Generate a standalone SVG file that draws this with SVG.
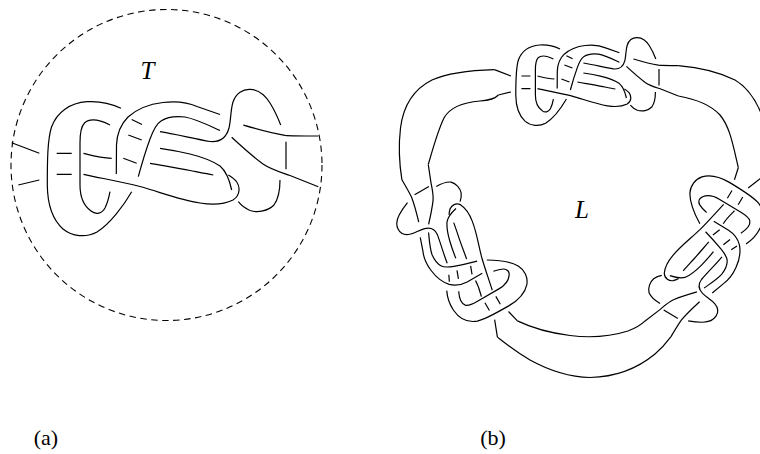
<svg xmlns="http://www.w3.org/2000/svg" xmlns:xlink="http://www.w3.org/1999/xlink" width="760" height="454" viewBox="0 0 760 454">
<style>
.lbl{font-family:"Liberation Serif","DejaVu Serif",serif;fill:#000}
.it{font-style:italic}
.ln{fill:none;stroke:#000;stroke-width:1.2;stroke-linecap:butt;stroke-linejoin:round}
</style>
<defs>
<g id="tangle" fill="none" stroke="#000" stroke-linejoin="round">
<path d="M121,108.3 C110,103 98,101 87,101.7 C70,103 57,112 51.5,127 C47.5,140 47.3,160 47.3,185 C47.5,205 53,220 63,229 C72,236.5 86,238 97,232 C110,224 124,205 131.7,191.7"/>
<path d="M110,125 C100,120 90,118 84.5,123 C80.5,127 80,135 80,143 L80,185 C80,197 84,206 91,211 C96,215 102,213.5 105,208 C107.5,203 109,197 110,191.7"/>
<path d="M56.7,153.3 H71.7 M56.7,174.3 H71.7"/>
<path d="M11.7,142.7 L39.3,153.3 M18.3,185 L39.3,180"/>
<path d="M83.5,153.3 C92,155.5 100,158 111.7,158.3"/>
<path d="M83.5,174.3 C100,178 120,181.5 140,186.5 C160,192 180,200 200,203 C212,205 224,204.5 233,200 C241,195 240,186 236,181 C233,178 230.5,176 228.3,175"/>
<path d="M116.3,174 L116.5,145 C117,132 121,124 128,117 C138,108 150,104 163,102.5 C175,101 187,102 197,106.5 L220,114.5"/>
<path d="M138.3,176.7 C142,163 146,150 150,139 C153,131 156,124 161,121 C167,117 176,116 185,117 C196,119 208,125 220,130.5"/>
<path d="M131.7,119.5 L142,124.5 M128.3,135 L141.7,140 M123.3,158.3 L136.7,163.3"/>
<path d="M160,131.7 C175,134 195,139 210,141.5 C220,142.5 226.5,137 229,128 C231,120 230.5,110 233,102 C236,93 243,89 250,89.3 C258,89.5 265,95 270,103 C275,111 278,118 280.7,125"/>
<path d="M160,148.3 C172,150 180,151.5 190,154 C202,157 212,160.5 220,166 C226,171 229.5,180 231.7,190"/>
<path d="M150,163.3 C165,166 178,168 190,170.5 C199,172.3 207,174 213.3,175"/>
<path d="M243.3,125 C255,128.5 270,133 285,135.3 C292,136 300,136 318.3,136"/>
<path d="M231.7,137.3 C240,145 252,156 263,164 C271,169.5 280,172 290,175.5 L318.3,186.7"/>
<path d="M286,141.7 V169.3"/>
<path d="M280,180 C280,190 279,198 274,205 C268,211 258,213 250,210.5 C245,208.5 241,205 238.3,201.7"/>
</g>
</defs>
<rect width="760" height="454" fill="#fff"/>
<g id="panel-a">
<circle id="boundary" cx="166.5" cy="165" r="155.5" fill="none" stroke="#000" stroke-width="1.1" stroke-dasharray="6.5 4.5"/>
<use id="tangle-T" href="#tangle" xlink:href="#tangle" stroke-width="1.2"/>
<text class="lbl it" x="147.5" y="78.5" font-size="25" text-anchor="middle">T</text>
<text class="lbl" x="46" y="445" font-size="22" text-anchor="middle">(a)</text>
</g>
<g id="panel-b">
<g id="copy-top"><use href="#tangle" xlink:href="#tangle" stroke-width="2" transform="translate(587,83) scale(0.6) translate(-166,-165)"/></g>
<g id="copy-left"><use href="#tangle" xlink:href="#tangle" stroke-width="2" transform="translate(462.7,250.2) rotate(-120) scale(0.6) translate(-166,-165)"/></g>
<g id="copy-right"><use href="#tangle" xlink:href="#tangle" stroke-width="2" transform="translate(703,249.6) rotate(121) scale(0.6) translate(-166,-165)"/></g>
<g id="connectors">
<path class="ln" d="M494.4,69.6 C480,70 450,72 432,80 C412,90 403,108 400.5,128 C398.5,145 399.5,165 401.9,179.8"/>
<path class="ln" d="M498.4,95 Q494,100 480,101 C462,102.5 450,107 444,118 C438,130 433,148 428.3,164.5"/>
<path class="ln" d="M678.4,65.6 C695,67 715,70 735,80 C752,90 762,110 768,135 C772,155 766,170 762.2,177.1"/>
<path class="ln" d="M678.4,96 C695,99 710,104 720,115 C730,127 733,145 738.3,167.5"/>
<path class="ln" d="M497.4,337.1 C505,343 515,351 530,360 C550,371 570,377 590,377.5 C615,377 638,368 655,354 C662,348 667,342 670.8,336.9"/>
<path class="ln" d="M517.4,320.9 C530,327 550,333 570,335.5 C590,338 612,336 628,331 C636,328 641,325 644.8,321.2"/>
</g>
<text class="lbl it" x="582" y="217.5" font-size="25" text-anchor="middle">L</text>
<text class="lbl" x="493" y="445" font-size="22" text-anchor="middle">(b)</text>
</g>
</svg>
